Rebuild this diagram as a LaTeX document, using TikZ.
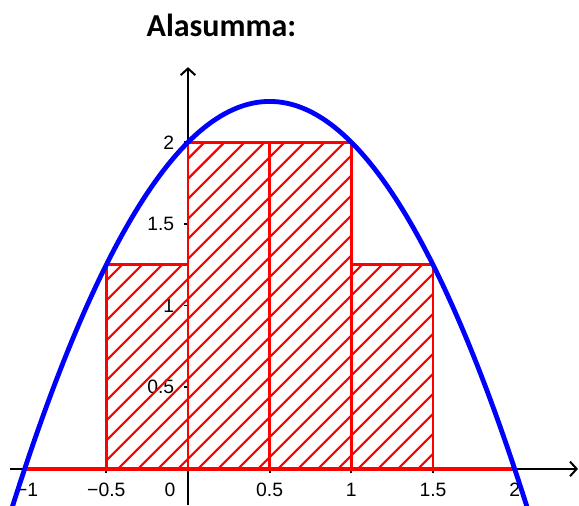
\documentclass[tikz,border=0pt]{standalone}
\usepackage{fontspec}
\setmainfont{Liberation Sans}
\newfontfamily\titlefont{Carlito}
\usetikzlibrary{arrows.meta}
\begin{document}
\begin{tikzpicture}[x=122.5pt,y=122.5pt,
  axis/.style={line width=1.5pt,-{Straight Barb[length=5pt,width=11pt,line width=1.5pt]}},
  tickmark/.style={line width=1.3pt},
  xlab/.style={inner sep=0pt,font=\fontsize{14.5}{16}\selectfont},
  ylab/.style={inner sep=0pt,anchor=east,font=\fontsize{14.5}{16}\selectfont},
  rectbox/.style={draw=red,line width=2.2pt},
  hatchline/.style={red,line width=1.6pt},
  redaxis/.style={red,line width=2.6pt},
  curve/.style={blue,line width=3.6pt}]
\useasboundingbox (-1.151,-0.2265) rectangle (2.394,2.871);
% axes
\coordinate (xs) at (-1.09,0);
\coordinate (xe) at (2.388,0);
\coordinate (ys) at (0,-0.22);
\coordinate (ye) at (0,2.46);
\draw[axis] (xs) -- (xe);
\draw[axis] (ys) -- (ye);
\foreach \t in {-1,-0.5,0.5,1,1.5,2} \draw[tickmark] (\t,0) -- (\t,-0.025);
\foreach \t in {0.5,1,1.5,2} \draw[tickmark] (0,\t) -- (-0.025,\t);
% labels
\node[xlab] (lxa) at (-0.985,-0.1286) {−1};
\node[xlab] (lxb) at (-0.5,-0.1286) {−0.5};
\node[xlab] (lxc) at (-0.11,-0.1286) {0};
\node[xlab] (lxd) at (0.5,-0.1286) {0.5};
\node[xlab] (lxe) at (1,-0.1286) {1};
\node[xlab] (lxf) at (1.5,-0.1286) {1.5};
\node[xlab] (lxg) at (2,-0.1286) {2};
\node[ylab] (lya) at (-0.083,0.5) {0.5};
\node[ylab] (lyb) at (-0.083,1) {1};
\node[ylab] (lyc) at (-0.083,1.5) {1.5};
\node[ylab] (lyd) at (-0.083,2) {2};
% title
\node[anchor=base,inner sep=0pt,font=\titlefont\bfseries\fontsize{24}{28}\selectfont] (title) at (0.205,2.648) {Alasumma:};
% hatching
\begin{scope}
\clip (-0.5,0) rectangle (0,1.25) (0,0) rectangle (1,2) (1,0) rectangle (1.5,1.25);
\foreach \k in {-27,...,8}
  \draw[hatchline] (-0.7,{-0.7+1.654+0.1225*\k}) -- (1.7,{1.7+1.654+0.1225*\k});
\end{scope}
% rectangles
\draw[rectbox] (-0.5,0) rectangle (0,1.25);
\draw[rectbox] (0,0) rectangle (0.5,2);
\draw[rectbox] (0.5,0) rectangle (1,2);
\draw[rectbox] (1,0) rectangle (1.5,1.25);
\draw[redaxis] (-1,0) -- (2,0);
% curve
\begin{scope}
\clip (-1.151,-0.2265) rectangle (2.394,2.871);
\draw[curve] plot[domain=-1.13:2.13,samples=120,smooth] (\x,{2+\x-\x*\x});
\end{scope}
\end{tikzpicture}
\end{document}
